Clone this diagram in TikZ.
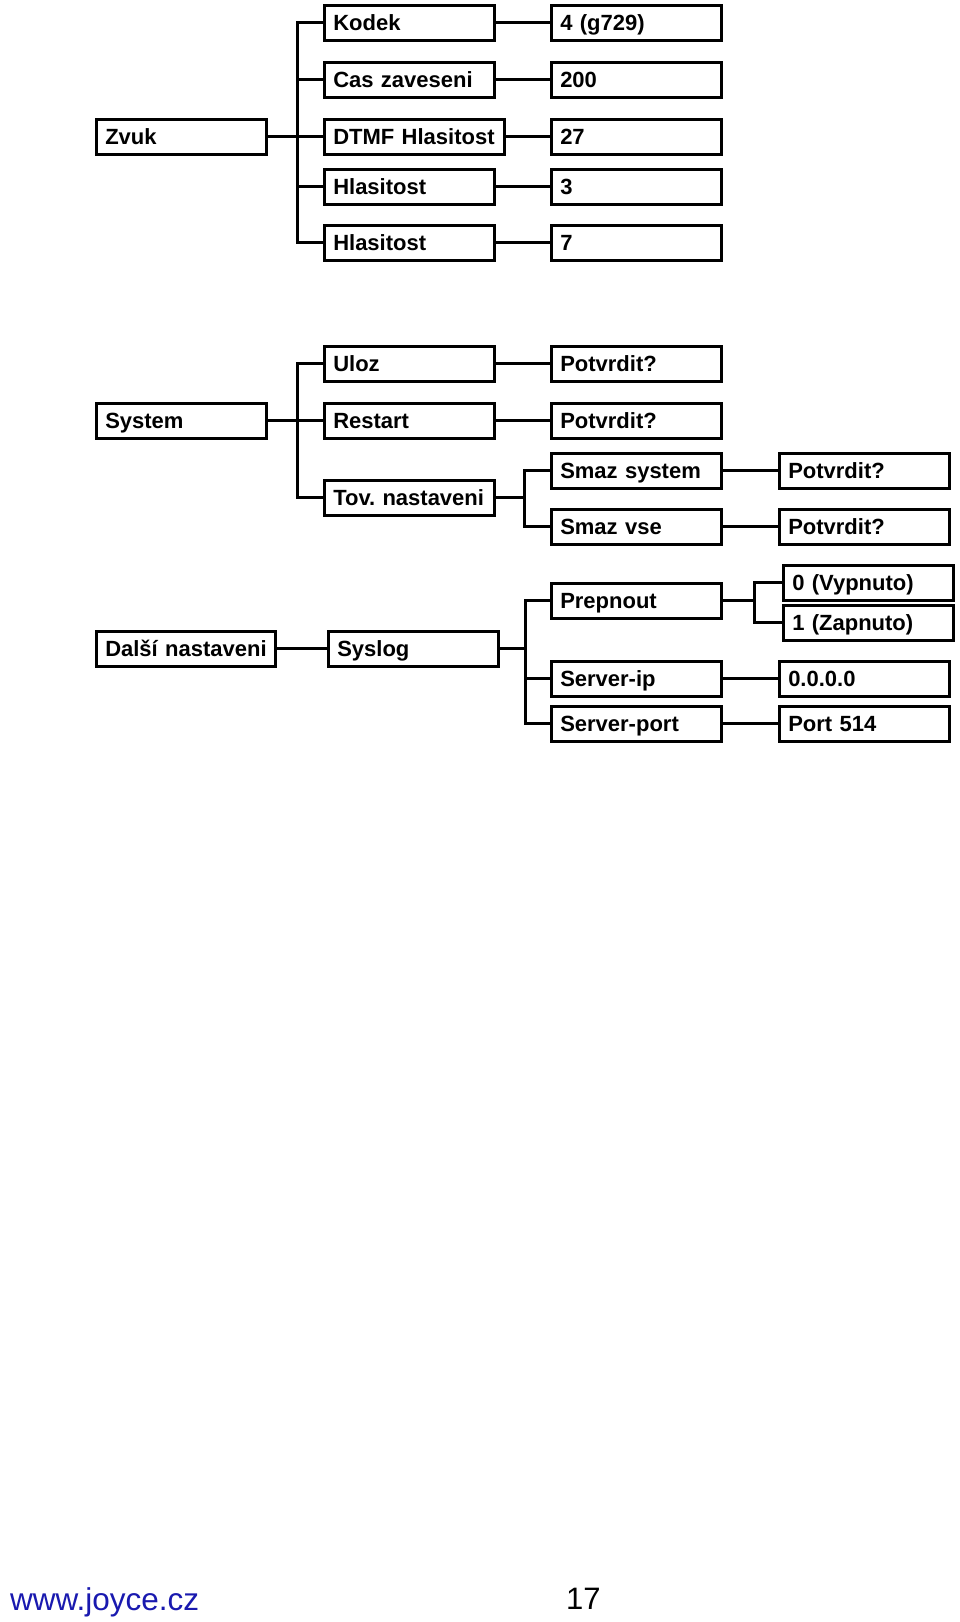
\documentclass[tikz,border=0pt]{standalone}
\usepackage{fontspec}
\setmainfont{Liberation Sans}
\definecolor{urlblue}{RGB}{25,25,175}
\begin{document}
\frenchspacing
\begin{tikzpicture}[x=1pt,y=-1pt,
  mbox/.style={draw, line width=2.5pt, anchor=north west, minimum height=35pt,
    inner xsep=9pt, inner ysep=0pt, text width=152pt, align=left,
    text height=15.8pt, text depth=0pt, font=\fontsize{22}{24}\selectfont\bfseries},
  wbox/.style={mbox, text width=#1},
  wire/.style={draw, line width=2.6pt}]
\useasboundingbox (0,0) rectangle (960,1622);

% --- Zvuk ---
\node[mbox] (zvuk) at (95,118) {Zvuk};
\node[mbox] (kodek) at (323,4) {Kodek};
\node[mbox] (cas) at (323,61) {Cas zaveseni};
\node[wbox=162pt] (dtmf) at (323,118) {\mbox{DTMF Hlasitost}};
\node[mbox] (hl1) at (323,168) {Hlasitost};
\node[mbox] (hl2) at (323,224) {Hlasitost};
\node[mbox] (vkodek) at (550,4) {4 (g729)};
\node[mbox] (vcas) at (550,61) {200};
\node[mbox] (vdtmf) at (550,118) {27};
\node[mbox] (vhl1) at (550,168) {3};
\node[mbox] (vhl2) at (550,224) {7};

\coordinate (tz) at ([xshift=30pt]zvuk.east);
\path[wire] (zvuk.east) -- (dtmf.west);
\foreach \c in {kodek,cas,hl1,hl2} \path[wire] (tz) |- (\c.west);
\path[wire] (kodek.east) -- (vkodek.west);
\path[wire] (cas.east) -- (vcas.west);
\path[wire] (dtmf.east) -- (vdtmf.west);
\path[wire] (hl1.east) -- (vhl1.west);
\path[wire] (hl2.east) -- (vhl2.west);

% --- System ---
\node[mbox] (system) at (95,402) {System};
\node[mbox] (uloz) at (323,345) {Uloz};
\node[mbox] (restart) at (323,402) {Restart};
\node[mbox] (tov) at (323,479) {\mbox{Tov. nastaveni}};
\node[mbox] (puloz) at (550,345) {Potvrdit?};
\node[mbox] (prestart) at (550,402) {Potvrdit?};
\node[mbox] (smazsys) at (550,452) {Smaz system};
\node[mbox] (smazvse) at (550,508) {Smaz vse};
\node[mbox] (psys) at (778,452) {Potvrdit?};
\node[mbox] (pvse) at (778,508) {Potvrdit?};

\coordinate (ts) at ([xshift=30pt]system.east);
\path[wire] (system.east) -- (restart.west);
\foreach \c in {uloz,tov} \path[wire] (ts) |- (\c.west);
\path[wire] (uloz.east) -- (puloz.west);
\path[wire] (restart.east) -- (prestart.west);
\coordinate (tt) at ([xshift=29pt]tov.east);
\path[wire] (tov.east) -- (tt);
\foreach \c in {smazsys,smazvse} \path[wire] (tt) |- (\c.west);
\path[wire] (smazsys.east) -- (psys.west);
\path[wire] (smazvse.east) -- (pvse.west);

% --- Dalsi nastaveni ---
\node[wbox=161pt] (dalsi) at (95,630) {\mbox{Další nastaveni}};
\node[mbox] (syslog) at (327,630) {Syslog};
\node[mbox] (prepnout) at (550,582) {Prepnout};
\node[mbox] (serverip) at (550,660) {Server-ip};
\node[mbox] (serverport) at (550,705) {Server-port};
\node[mbox] (vyp) at (782,564) {0 (Vypnuto)};
\node[mbox] (zap) at (782,604) {1 (Zapnuto)};
\node[mbox] (ip) at (778,660) {0.0.0.0};
\node[mbox] (port) at (778,705) {Port 514};

\path[wire] (dalsi.east) -- (syslog.west);
\coordinate (ty) at ([xshift=26pt]syslog.east);
\path[wire] (syslog.east) -- (ty);
\foreach \c in {prepnout,serverip,serverport} \path[wire] (ty) |- (\c.west);
\coordinate (tp) at ([xshift=32pt]prepnout.east);
\path[wire] (prepnout.east) -- (tp);
\foreach \c in {vyp,zap} \path[wire] (tp) |- (\c.west);
\path[wire] (serverip.east) -- (ip.west);
\path[wire] (serverport.east) -- (port.west);

% --- footer ---
\node[anchor=base west, inner sep=0pt, text=urlblue, font=\fontsize{31.5}{36}\selectfont] (url) at (10,1610) {www.joyce.cz};
\node[anchor=base west, inner sep=0pt, font=\fontsize{31}{36}\selectfont] (page) at (566,1609) {17};
\end{tikzpicture}
\end{document}
